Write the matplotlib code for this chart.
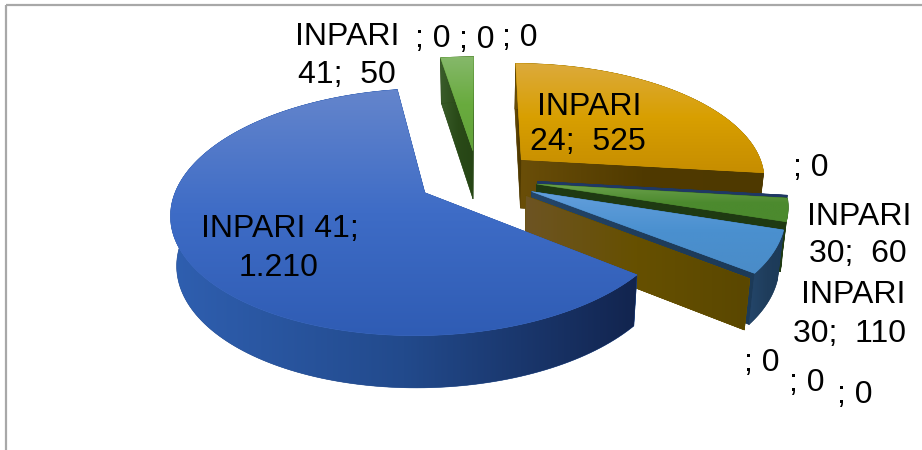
#!/usr/bin/env python3
"""Exploded 3D pie of INPARI varieties, drawn by hand with a small perspective projection."""

import matplotlib
matplotlib.use('Agg')
import matplotlib.pyplot as plt
from matplotlib.colors import LinearSegmentedColormap
from matplotlib.patches import Polygon
import numpy as np

plt.rcParams['font.family'] = ['Liberation Sans', 'DejaVu Sans']

values = [1210, 50, 0, 0, 0, 525, 0, 60, 110, 0, 0, 0]
names = ['INPARI 41', 'INPARI 41', '', '', '', 'INPARI 24', '', 'INPARI 30', 'INPARI 30', '', '', '']
label_lines = [
    ['INPARI 41;', '1.210'], ['INPARI', '41;  50'], ['; 0'], ['; 0'], ['; 0'],
    ['INPARI', '24;  525'], ['; 0'], ['INPARI', '30;  60'], ['INPARI', '30;  110'],
    ['; 0'], ['; 0'], ['; 0'],
]

# label anchors, centre x and baseline y of every line
label_pos = [
    [(280, 237), (279, 276)], [(347, 45), (347, 83)], [(433, 47)], [(477, 48)], [(520, 46)],
    [(589, 115), (588, 150)], [(811, 176)], [(859, 225), (858, 262)], [(853, 303), (849, 342)],
    [(762, 371)], [(807, 391)], [(855, 403)],
]

# top colours (light to dark), wall colours (left to right), None = not drawn
top_cols = [
    ['#6485cc', '#3e6cc6', '#2f5cb4'], ['#85b86a', '#69ab3e', '#62a23a'], None, None, None,
    ['#dcaa3c', '#d89f00', '#c68d00'], None, ['#6ba04c', '#4c8a2e', '#4c8a2e'],
    ['#639fdc', '#4a90cf', '#4a8cc8'], None, None, None,
]
wall_cols = [
    ['#2f5fb0', '#224a8c', '#12244e'], ['#3a5c2a', '#2a4a18', '#264515'], None, None, None,
    ['#6a4e08', '#503a00', '#4e3900'], ['#1f3864', '#1f3864', '#1f3864'], ['#1f3a12', '#1f3a12', '#1f3a12'],
    ['#24466a', '#1f3d5c', '#1c3a58'], ['#6d5423', '#665000', '#5a4700'], None, None,
]
paint_order = [1, 5, 6, 7, 8, 9, 0]

START = 128.0
EXPLODE = 0.245
CX, CY = 477.5, 178
RX, RY, K = 245, 116, 0.153
THICK = 49
CONVERGE = 0.98


def project(x, y):
    w = 1 - K * y
    return CX + RX * x / w, CY + RY * y / w


def disc(theta, r=1.0, off=(0, 0)):
    t = np.radians(theta)
    return off[0] + r * np.sin(t), off[1] - r * np.cos(t)


def fill(ax, pts, cols, vertical=True, z=1):
    pts = np.array(pts)
    cmap = LinearSegmentedColormap.from_list('g', cols)
    grad = np.linspace(0, 1, 256)
    grad = grad[:, None] if vertical else grad[None, :]
    x0, y0 = pts.min(axis=0)
    x1, y1 = pts.max(axis=0)
    patch = Polygon(pts, closed=True, fc=cols[1], ec=cols[1], lw=0.4, zorder=z)
    ax.add_patch(patch)
    im = ax.imshow(grad, cmap=cmap, extent=(x0, x1, y1, y0), aspect='auto',
                   interpolation='bilinear', zorder=z + 0.1)
    im.set_clip_path(patch)


def drop(pts, y_disc):
    # lower rim: slightly pulled toward the centre, walls converge downward
    return [(CX + (p[0] - CX) * CONVERGE, p[1] + THICK * (1 + 0.06 * y)) for p, y in zip(pts, y_disc)]


def wall(ax, disc_pts, cols, z):
    top = [project(*p) for p in disc_pts]
    low = drop(top, [p[1] for p in disc_pts])
    fill(ax, top + low[::-1], cols, vertical=False, z=z)


fig = plt.figure(figsize=(9.22, 4.5), dpi=100)
ax = fig.add_axes([0, 0, 1, 1])

total = sum(values)
edges = START + np.concatenate([[0], np.cumsum(values)]) * 360 / total

for z, i in enumerate(paint_order):
    a0, a1 = edges[i], edges[i + 1]
    mid = (a0 + a1) / 2
    off = disc(mid, EXPLODE)
    if wall_cols[i] is not None:
        wall(ax, [off, disc(a0, 1, off)], wall_cols[i], z * 10 + 1)
        wall(ax, [off, disc(a1, 1, off)], wall_cols[i], z * 10 + 2)
        if a1 > a0:
            arc = [disc(t, 1, off) for t in np.linspace(a0, a1, 160)]
            wall(ax, arc, wall_cols[i], z * 10 + 3)
    if top_cols[i] is not None:
        arc = [disc(t, 1, off) for t in np.linspace(a0, a1, 160)]
        outline = [project(*p) for p in [off] + arc]
        fill(ax, outline, top_cols[i], vertical=True, z=z * 10 + 5)

for lines, spots in zip(label_lines, label_pos):
    for line, (x, y) in zip(lines, spots):
        ax.text(x, y, line, fontsize=23, color='black', ha='center', va='baseline', zorder=200)

# chart area border
ax.plot([6, 6], [450, 5], color='#a8a8a8', lw=1.6, zorder=300, solid_capstyle='butt')
ax.plot([6, 922], [5, 5], color='#a8a8a8', lw=1.6, zorder=300, solid_capstyle='butt')

ax.set_xlim(0, 922)
ax.set_ylim(450, 0)
ax.axis('off')
fig.savefig('out.png', dpi=100)
plt.close(fig)
